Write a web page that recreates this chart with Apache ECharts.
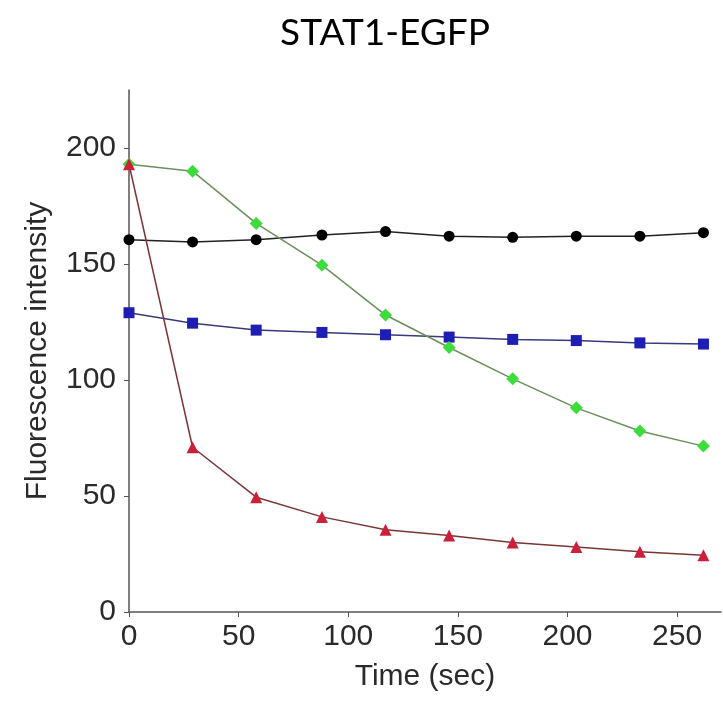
<!DOCTYPE html>
<html>
<head>
<meta charset="utf-8">
<script src="https://cdn.jsdelivr.net/npm/echarts@6/dist/echarts.min.js"></script>
<style>html,body{margin:0;padding:0;background:#fff}#c{width:723px;height:702px}</style>
</head>
<body>
<div id="c"></div>
<script>
const times = [0, 29, 58, 88, 117, 146, 175, 204, 233, 262];
const blackSeries = [160.5, 159.5, 160.5, 162.5, 164, 162, 161.5, 162, 162, 163.5];
const blueSeries  = [129, 124.5, 121.5, 120.5, 119.5, 118.5, 117.5, 117, 116, 115.5];
const greenSeries = [193, 190, 167.5, 149.5, 128, 114, 100.5, 88, 78, 71.5];
const redSeries   = [193, 71, 49.5, 41, 35.5, 33, 30, 28, 26, 24.5];
const xTicks = [0, 50, 100, 150, 200, 250];
const yTicks = [0, 50, 100, 150, 200];

function pairs(vals){ return times.map((t,i)=>[t, vals[i]]); }

const chart = echarts.init(document.getElementById('c'), null, {renderer:'canvas'});
const axisFont = {fontFamily:'Liberation Sans, Arial, sans-serif', fontSize:30, color:'#2a2a2a'};
function mkSeries(name, vals, symbol, size, mcolor, lcolor){
  return {name, type:'line', data:pairs(vals), symbol, symbolSize:size,
    itemStyle:{color:mcolor, borderWidth:0},
    lineStyle:{color:lcolor, width:1.5}, z: 3, animation:false};
}
chart.setOption({
  animation:false,
  backgroundColor:'#ffffff',
  title:{text:'STAT1-EGFP', left:380, top:10, textAlign:'center',
    textStyle:{fontFamily:'Lato, Open Sans, sans-serif', fontWeight:'normal', fontSize:37, color:'#000'}},
  grid:{left:129, right:2, top:90, bottom:90, containLabel:false},
  xAxis:{type:'value', min:0, max:270, interval:50,
    name:'Time (sec)', nameLocation:'middle', nameGap:50,
    nameTextStyle:axisFont,
    axisLine:{show:true, lineStyle:{color:'#555', width:1.5}},
    axisTick:{show:true, length:5, customValues:xTicks, lineStyle:{color:'#555'}},
    axisLabel:Object.assign({margin:10, customValues:xTicks}, axisFont),
    splitLine:{show:false}},
  yAxis:{type:'value', min:0, max:225, interval:50,
    name:'Fluorescence intensity', nameLocation:'middle', nameGap:76,
    nameTextStyle:axisFont,
    axisLine:{show:true, lineStyle:{color:'#555', width:1.5}},
    axisTick:{show:true, length:5, customValues:yTicks, lineStyle:{color:'#555'}},
    axisLabel:Object.assign({margin:13, customValues:yTicks}, axisFont),
    splitLine:{show:false}},
  series:[
    mkSeries('black', blackSeries, 'circle', 11, '#000000', '#222222'),
    mkSeries('blue', blueSeries, 'rect', 11, '#1e1eb4', '#3a3a7a'),
    mkSeries('green', greenSeries, 'diamond', 13, '#3ddc3d', '#6a8f5a'),
    mkSeries('red', redSeries, 'triangle', 12, '#cc1f3a', '#7a3535')
  ]
});
</script>
</body>
</html>
